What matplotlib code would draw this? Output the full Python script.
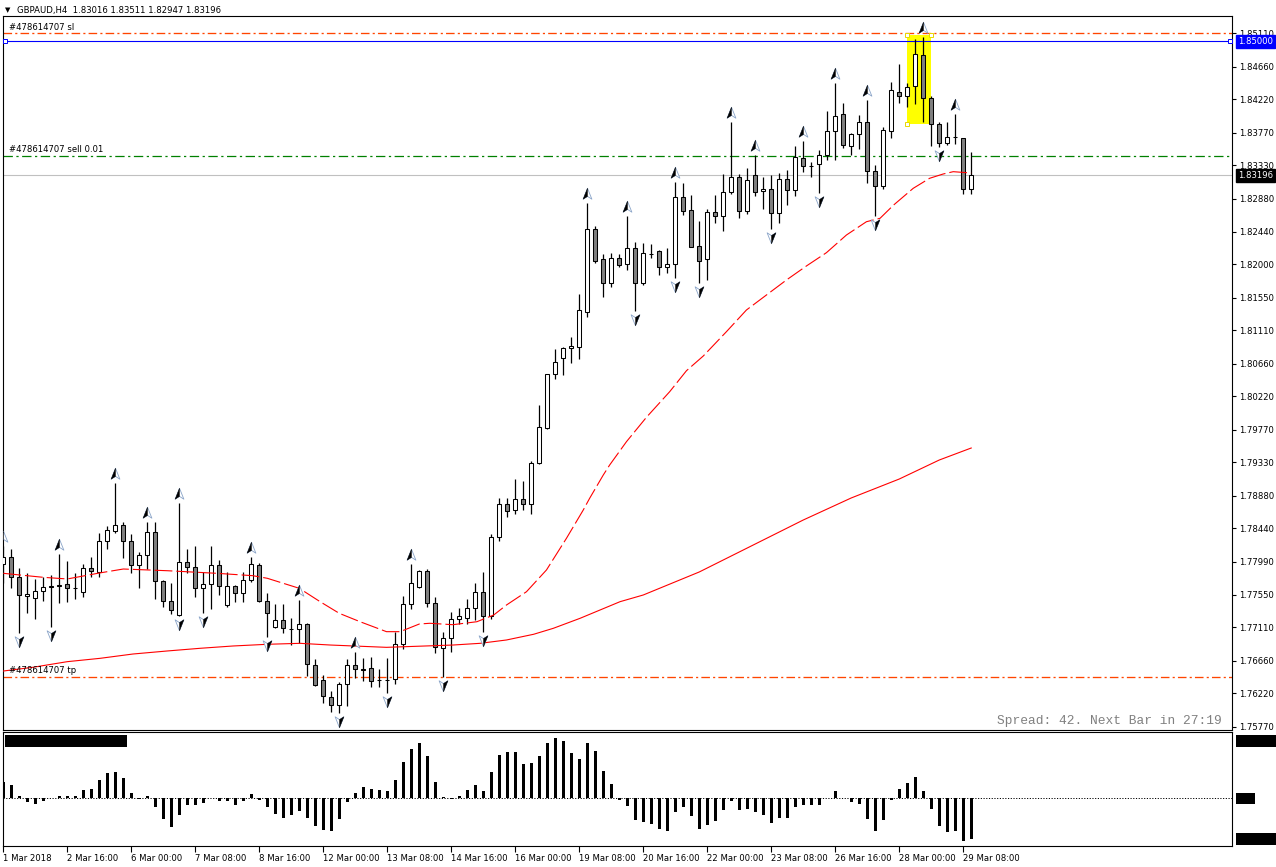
import matplotlib
matplotlib.use("Agg")
import matplotlib.pyplot as plt
import numpy as np
from matplotlib.patches import Rectangle
from matplotlib.path import Path

# ---- data (GBPAUD H4, 1 Mar 08:00 .. 29 Mar 12:00) ----
symbol = "GBPAUD,H4"

opens = [1.77962, 1.78060, 1.77782, 1.77531, 1.77500, 1.77598, 1.77652, 1.77666, 1.77688, 1.77632,
         1.77580, 1.77908, 1.77858, 1.78275, 1.78410, 1.78483, 1.78267, 1.77952, 1.78079, 1.78393,
         1.77729, 1.77459, 1.77271, 1.77984, 1.77917, 1.77634, 1.77688, 1.77944, 1.77413, 1.77661,
         1.77567, 1.77742, 1.77944, 1.77459, 1.77109, 1.77203, 1.77088, 1.77082, 1.77149, 1.76597,
         1.76395, 1.76174, 1.76062, 1.76341, 1.76597, 1.76541, 1.76557, 1.76397, 1.76397, 1.76408,
         1.76880, 1.77419, 1.77656, 1.77863, 1.77432, 1.76826, 1.76961, 1.77217, 1.77230, 1.77365,
         1.77580, 1.77261, 1.78321, 1.78766, 1.78689, 1.78841, 1.78766, 1.79318, 1.79798, 1.80517,
         1.80732, 1.80867, 1.80889, 1.81360, 1.82470, 1.82066, 1.81743, 1.82079, 1.81998, 1.82214,
         1.81751, 1.82131, 1.82174, 1.81958, 1.81998, 1.82901, 1.82726, 1.82245, 1.82066, 1.82699,
         1.82653, 1.82968, 1.83170, 1.82720, 1.83197, 1.82982, 1.83009, 1.82685, 1.83143, 1.82999,
         1.83426, 1.83325, 1.83350, 1.83467, 1.83798, 1.84019, 1.83592, 1.83750, 1.83911, 1.83251,
         1.83053, 1.83794, 1.84315, 1.84266, 1.84400, 1.84814, 1.84235, 1.83884, 1.83636, 1.83707,
         1.83696, 1.83016]
highs = [1.78204, 1.78160, 1.77904, 1.77836, 1.77760, 1.77782, 1.77813, 1.78096, 1.78002, 1.77844,
         1.77962, 1.78052, 1.78383, 1.78473, 1.79057, 1.78527, 1.78366, 1.78123, 1.78527, 1.78527,
         1.77746, 1.77702, 1.78779, 1.78160, 1.78204, 1.77850, 1.78204, 1.78015, 1.77850, 1.77679,
         1.77850, 1.78060, 1.77975, 1.77567, 1.77423, 1.77423, 1.77230, 1.77477, 1.77171, 1.76678,
         1.76462, 1.76251, 1.76376, 1.76678, 1.76772, 1.76695, 1.76705, 1.76543, 1.76691, 1.77050,
         1.77531, 1.77958, 1.77881, 1.77894, 1.77513, 1.77042, 1.77315, 1.77365, 1.77490, 1.77706,
         1.77850, 1.78366, 1.78847, 1.78847, 1.79106, 1.79084, 1.79353, 1.80103, 1.80520, 1.80854,
         1.80889, 1.81015, 1.81598, 1.82820, 1.82514, 1.82137, 1.82147, 1.82137, 1.82649, 1.82295,
         1.82281, 1.82272, 1.82191, 1.82214, 1.83111, 1.83090, 1.82928, 1.82582, 1.82743, 1.82932,
         1.83215, 1.83915, 1.83215, 1.83292, 1.83471, 1.83170, 1.83201, 1.83224, 1.83269, 1.83592,
         1.83663, 1.83381, 1.83538, 1.84068, 1.84445, 1.84167, 1.83763, 1.84010, 1.84212, 1.83332,
         1.83844, 1.84458, 1.84697, 1.84445, 1.85029, 1.85064, 1.84266, 1.83911, 1.83919, 1.84023,
         1.83700, 1.83511]
lows = [1.77710, 1.77634, 1.77028, 1.77297, 1.77217, 1.77467, 1.77117, 1.77440, 1.77454, 1.77486,
        1.77513, 1.77782, 1.77790, 1.78168, 1.78383, 1.78042, 1.77844, 1.77642, 1.77898, 1.77486,
        1.77378, 1.77288, 1.77265, 1.77844, 1.77521, 1.77306, 1.77351, 1.77548, 1.77378, 1.77454,
        1.77454, 1.77719, 1.77443, 1.76974, 1.77099, 1.77036, 1.76870, 1.76901, 1.76457, 1.76322,
        1.76093, 1.75972, 1.75959, 1.76053, 1.76422, 1.76390, 1.76309, 1.76305, 1.76220, 1.76341,
        1.76817, 1.77351, 1.77642, 1.77386, 1.76759, 1.76443, 1.76780, 1.77153, 1.77149, 1.77207,
        1.77050, 1.77217, 1.78271, 1.78599, 1.78631, 1.78689, 1.78631, 1.79309, 1.79776, 1.80449,
        1.80507, 1.80665, 1.80719, 1.81293, 1.82012, 1.81562, 1.81697, 1.81958, 1.81922, 1.81373,
        1.81720, 1.82079, 1.81854, 1.81885, 1.81818, 1.82663, 1.82227, 1.81743, 1.81787, 1.82559,
        1.82451, 1.82941, 1.82618, 1.82676, 1.82918, 1.82739, 1.82470, 1.82551, 1.82797, 1.82918,
        1.83246, 1.83170, 1.82963, 1.83403, 1.83403, 1.83561, 1.83471, 1.83548, 1.83090, 1.82649,
        1.83009, 1.83696, 1.84167, 1.84113, 1.84154, 1.83919, 1.83592, 1.83583, 1.83605, 1.83619,
        1.82941, 1.82947]
closes = [1.78060, 1.77782, 1.77540, 1.77553, 1.77594, 1.77648, 1.77660, 1.77672, 1.77634, 1.77636,
          1.77904, 1.77867, 1.78267, 1.78415, 1.78483, 1.78267, 1.77952, 1.78079, 1.78393, 1.77729,
          1.77459, 1.77338, 1.77984, 1.77917, 1.77634, 1.77688, 1.77944, 1.77661, 1.77661, 1.77567,
          1.77742, 1.77958, 1.77459, 1.77306, 1.77203, 1.77099, 1.77092, 1.77149, 1.76610, 1.76328,
          1.76179, 1.76062, 1.76341, 1.76597, 1.76543, 1.76535, 1.76386, 1.76401, 1.76401, 1.76880,
          1.77419, 1.77702, 1.77863, 1.77432, 1.76839, 1.76969, 1.77217, 1.77261, 1.77365, 1.77580,
          1.77261, 1.78321, 1.78766, 1.78675, 1.78841, 1.78766, 1.79318, 1.79811, 1.80517, 1.80687,
          1.80867, 1.80898, 1.81383, 1.82470, 1.82047, 1.81751, 1.82079, 1.81993, 1.82214, 1.81751,
          1.82147, 1.82135, 1.81958, 1.81998, 1.82901, 1.82720, 1.82236, 1.82047, 1.82699, 1.82653,
          1.82968, 1.83170, 1.82720, 1.83130, 1.82976, 1.83013, 1.82685, 1.83143, 1.82999, 1.83440,
          1.83327, 1.83329, 1.83467, 1.83798, 1.84000, 1.83601, 1.83750, 1.83911, 1.83251, 1.83053,
          1.83803, 1.84342, 1.84266, 1.84391, 1.84827, 1.84235, 1.83884, 1.83636, 1.83709, 1.83711,
          1.83016, 1.83196]

# fractal arrows (bar indices)
fractal_up = [0, 7, 14, 18, 22, 31, 37, 44, 51, 73, 78, 84, 91, 94, 100, 104, 108, 115, 119]
fractal_down = [2, 6, 22, 25, 33, 42, 48, 55, 60, 79, 84, 87, 96, 102, 109, 117]

# moving averages, sampled along the drawn lines (bar position, price)
ma_fast_bar = [0, 5, 8, 12, 15, 20.5, 26.7, 31.2, 33, 37, 39.6, 42, 44.6, 47.9, 49.6, 52, 53.3,
               56.2, 59.2, 61.3, 62.9, 65.4, 67.9, 70.4, 72.5, 73.3, 75, 75.8, 77.9, 80.4, 83.3,
               85.4, 87.5, 90.4, 92.9, 95.4, 97.9, 100.4, 102.9, 105.4, 107.9, 109.6, 111.3,
               113.75, 115.8, 117.5, 118.75, 121]
ma_fast_val = [1.77836, 1.77782, 1.77760, 1.77840, 1.77894, 1.77871, 1.77836, 1.77804, 1.77769,
               1.77634, 1.77454, 1.77297, 1.77184, 1.77050, 1.77050, 1.77153, 1.77163, 1.77144,
               1.77184, 1.77274, 1.77409, 1.77588, 1.77881, 1.78308, 1.78689, 1.78847, 1.79160,
               1.79295, 1.79609, 1.79938, 1.80282, 1.80565, 1.80763, 1.81091, 1.81383, 1.81585,
               1.81787, 1.81976, 1.82155, 1.82393, 1.82572, 1.82618, 1.82797, 1.83022, 1.83157,
               1.83215, 1.83246, 1.83228]
ma_slow_bar = [0, 3.7, 8, 12.1, 16.2, 20.5, 24.6, 28.7, 33, 37.1, 40.9, 47.9, 56.2, 59.6, 62.9,
               66.3, 68.75, 72.1, 74.6, 77.1, 80, 87, 93, 100, 106, 112, 117, 121]
ma_slow_val = [1.76520, 1.76570, 1.76646, 1.76691, 1.76749, 1.76790, 1.76826, 1.76857, 1.76880,
               1.76893, 1.76870, 1.76839, 1.76870, 1.76893, 1.76938, 1.77015, 1.77095, 1.77230,
               1.77342, 1.77454, 1.77544, 1.77854, 1.78177, 1.78554, 1.78851, 1.79106, 1.79362,
               1.79524]

# oscillator histogram in the sub window
osc = [0.47, 0.40, 0.07, -0.13, -0.17, -0.10, 0.01, 0.07, 0.07, 0.07,
       0.23, 0.28, 0.55, 0.74, 0.79, 0.61, 0.16, -0.03, 0.07, -0.28,
       -0.61, -0.85, -0.50, -0.20, -0.20, -0.16, -0.01, -0.10, -0.10, -0.20,
       -0.10, 0.13, -0.07, -0.28, -0.47, -0.58, -0.52, -0.40, -0.58, -0.82,
       -0.94, -0.97, -0.62, -0.13, 0.16, 0.33, 0.28, 0.25, 0.22, 0.55,
       1.07, 1.45, 1.63, 1.24, 0.47, 0.04, -0.03, 0.07, 0.25, 0.40,
       0.22, 0.77, 1.27, 1.36, 1.36, 1.01, 1.04, 1.24, 1.65, 1.78,
       1.69, 1.33, 1.17, 1.63, 1.39, 0.82, 0.43, -0.07, -0.23, -0.65,
       -0.70, -0.77, -0.92, -0.97, -0.43, -0.28, -0.55, -0.91, -0.80, -0.67,
       -0.35, -0.10, -0.37, -0.32, -0.43, -0.50, -0.73, -0.58, -0.58, -0.28,
       -0.20, -0.22, -0.20, 0.01, 0.22, 0.01, -0.13, -0.17, -0.61, -0.97,
       -0.65, -0.07, 0.28, 0.46, 0.64, 0.22, -0.32, -0.82, -1.00, -0.98,
       -1.27, -1.23]
osc_range = (-1.43, 1.97)

# trade / object levels
order_id = "#478614707"
sl_price = 1.85110
tp_price = 1.76439
entry_price = 1.83457
hline_price = 1.85000
zone_bars = (113, 116)
zone_prices = (1.83884, 1.85087)

price_ticks = [1.85110, 1.84660, 1.84220, 1.83770, 1.83330, 1.82880, 1.82440, 1.82000, 1.81550,
               1.81110, 1.80660, 1.80220, 1.79770, 1.79330, 1.78880, 1.78440, 1.77990, 1.77550,
               1.77110, 1.76660, 1.76220, 1.75770]
time_tick_bars = [0, 8, 16, 24, 32, 40, 48, 56, 64, 72, 80, 88, 96, 104, 112, 120]
time_tick_labels = ["1 Mar 2018", "2 Mar 16:00", "6 Mar 00:00", "7 Mar 08:00", "8 Mar 16:00",
                    "12 Mar 00:00", "13 Mar 08:00", "14 Mar 16:00", "16 Mar 00:00", "19 Mar 08:00",
                    "20 Mar 16:00", "22 Mar 00:00", "23 Mar 08:00", "26 Mar 16:00", "28 Mar 00:00",
                    "29 Mar 08:00"]
status_text = "Spread: 42. Next Bar in 27:19"

# ---------------------------------------------------------------------------
W, H = 1276, 867
FS = 6.1
plt.rcParams["font.family"] = ["DejaVu Sans"]
plt.rcParams["font.size"] = FS

fig = plt.figure(figsize=(W / 100, H / 100), dpi=100)


def axes_px(left, top, right, bottom):
    return fig.add_axes([left / W, 1 - bottom / H, (right - left) / W, (bottom - top) / H])


ax = axes_px(3, 16, 1232, 730)
sub = axes_px(3, 732, 1232, 846)

xlim = (-0.04, 153.6)
o = np.array(opens)
h = np.array(highs)
l = np.array(lows)
c = np.array(closes)
x = np.arange(len(o))

ax.set_xlim(*xlim)
ax.set_ylim(1.757255, 1.85343)
for a in (ax, sub):
    for s in a.spines.values():
        s.set_linewidth(0.8)
        s.set_color("black")

# zone rectangle (behind everything)
ax.add_patch(Rectangle((zone_bars[0], zone_prices[0]), zone_bars[1] - zone_bars[0],
                       zone_prices[1] - zone_prices[0], facecolor="#ffff00", edgecolor="none",
                       zorder=0.5))
ax.plot([zone_bars[0], zone_bars[1], zone_bars[0]],
        [zone_prices[1], zone_prices[1], zone_prices[0]], ls="none", marker="s", ms=3.3,
        mfc="white", mec="#e8d800", mew=0.7, zorder=8)

# horizontal levels
ytr = ax.get_yaxis_transform()
dashdot = (6.5, 2.4, 1.6, 2.4)
ax.axhline(sl_price, color="#ff4500", lw=0.95, dashes=dashdot, zorder=1)
ax.axhline(tp_price, color="#ff4500", lw=0.95, dashes=dashdot, zorder=1)
ax.axhline(entry_price, color="#008000", lw=0.9, dashes=(7.5, 2.8, 1.8, 2.8), zorder=1)
ax.axhline(hline_price, color="#0000ff", lw=0.8, zorder=1)
ax.axhline(closes[-1], color="#c0c0c0", lw=0.8, zorder=1)
ax.plot([0.0018, 0.998], [hline_price, hline_price], transform=ytr, ls="none", marker="s",
        ms=3.3, mfc="white", mec="#0000ff", mew=0.7, zorder=8, clip_on=False)

for label, price in ((order_id + " sl", sl_price), (order_id + " sell 0.01", entry_price),
                     (order_id + " tp", tp_price)):
    ax.annotate(label, xy=(0.005, price), xycoords=ytr, xytext=(0, 1.2),
                textcoords="offset points", va="bottom", ha="left", fontsize=FS, zorder=9)

# candles
ax.vlines(x, l, h, color="black", lw=0.9, zorder=3)
bull = c >= o
ax.bar(x, np.abs(c - o), bottom=np.minimum(o, c), width=0.5,
       color=np.where(bull, "white", "#808080"), edgecolor="black", linewidth=0.75, zorder=4)

# moving averages
ax.plot(ma_slow_bar, ma_slow_val, color="red", lw=0.8, zorder=5)
ax.plot(ma_fast_bar, ma_fast_val, color="red", lw=0.8, dashes=(16, 3.6), zorder=5)

# fractal arrows
up_full = Path([(0, 1), (0.7, -0.75), (0, -0.3), (-0.7, -0.75), (0, 1)], closed=True)
up_half = Path([(0, 1), (0, -0.3), (-0.7, -0.75), (0, 1)], closed=True)
dn_full = Path([(0, -1), (0.7, 0.75), (0, 0.3), (-0.7, 0.75), (0, -1)], closed=True)
dn_half = Path([(0, -1), (0, 0.3), (0.7, 0.75), (0, -1)], closed=True)
fu = np.array(fractal_up)
fd = np.array(fractal_down)
ax.plot(fu, h[fu] + 0.0012, ls="none", marker=up_full, ms=9, mfc="white", mec="#8aa4c8",
        mew=0.6, zorder=6)
ax.plot(fu, h[fu] + 0.0012, ls="none", marker=up_half, ms=9, mfc="black", mec="black",
        mew=0.3, zorder=7)
ax.plot(fd, l[fd] - 0.0011, ls="none", marker=dn_full, ms=9, mfc="white", mec="#8aa4c8",
        mew=0.6, zorder=6)
ax.plot(fd, l[fd] - 0.0011, ls="none", marker=dn_half, ms=9, mfc="black", mec="black",
        mew=0.3, zorder=7)

# price scale
ax.set_xticks([])
ax.yaxis.tick_right()
ax.set_yticks(price_ticks)
ax.set_yticklabels([f"{p:.5f}" for p in price_ticks])
ax.tick_params(axis="y", length=3, width=0.8, pad=2.2, labelsize=FS, colors="black")
for price, bg in ((hline_price, "#0000ff"), (closes[-1], "black")):
    ax.text(1.0049, price, f"{price:.5f}", transform=ytr, ha="left", va="center",
            color="white", fontsize=FS, zorder=10, clip_on=False,
            bbox=dict(boxstyle="square,pad=0.28", fc=bg, ec=bg))

ax.text(0.9919, 0.0126, status_text, transform=ax.transAxes, ha="right", va="center",
        family="Liberation Mono", fontsize=9.3, color="#808080")

fig.text(5 / W, 1 - 10 / H, "\u25bc", fontsize=5, va="center", ha="left")
fig.text(17 / W, 1 - 10 / H,
         f"{symbol}  {opens[-1]:.5f} {highs[-1]:.5f} {lows[-1]:.5f} {closes[-1]:.5f}",
         fontsize=FS, va="center", ha="left")

# oscillator sub window
sub.set_xlim(*xlim)
sub.set_ylim(*osc_range)
sub.bar(x, osc, width=0.33, color="black", zorder=3)
sub.axhline(0, color="black", lw=0.7, dashes=(1.2, 1.6), zorder=2)
sub.set_yticks([])
sub.set_xticks(time_tick_bars)
sub.set_xticklabels(time_tick_labels, ha="left")
sub.tick_params(axis="x", length=4, width=0.8, pad=2, labelsize=FS, colors="black")

# indicator name and scale labels (hidden, shown as solid boxes)
box_kw = dict(transform=sub.transAxes, facecolor="black", edgecolor="none", clip_on=False)
sub.add_patch(Rectangle((0.0016, 0.868), 0.0993, 0.106, **box_kw))
sub.add_patch(Rectangle((1.0033, 0.868), 0.033, 0.106, **box_kw))
sub.add_patch(Rectangle((1.0033, 0.368), 0.0155, 0.097, **box_kw))
sub.add_patch(Rectangle((1.0033, 0.009), 0.033, 0.105, **box_kw))

fig.savefig("out.png", dpi=100)
